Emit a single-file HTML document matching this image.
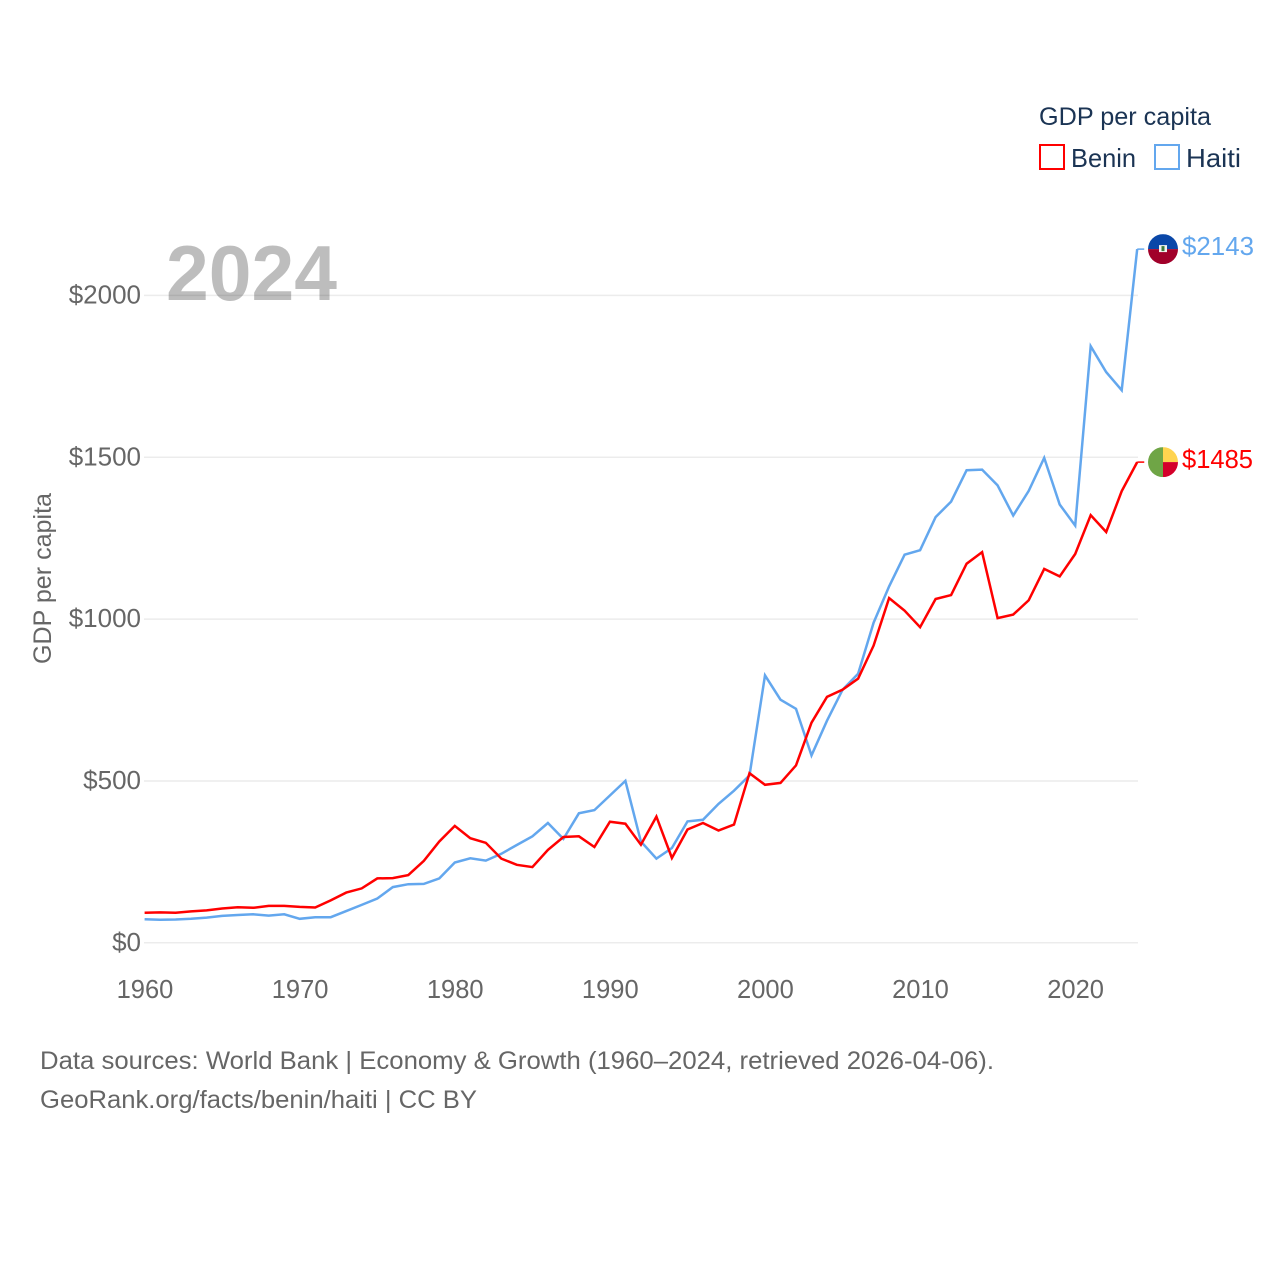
<!DOCTYPE html>
<html lang="en">
<head>
<meta charset="utf-8">
<title>GDP per capita: Benin and Haiti</title>
<style>
html,body{margin:0;padding:0;background:#fff;width:1280px;height:1280px;overflow:hidden}
svg{display:block;font-family:"Liberation Sans",sans-serif}
</style>
</head>
<body>
<svg id="chart" width="1280" height="1280" viewBox="0 0 1280 1280" xmlns="http://www.w3.org/2000/svg">
  <g id="grid"></g>
  <g id="y-labels"></g>
  <g id="x-labels"></g>
  <text x="166" y="300" font-size="78" font-weight="700" fill="#000" fill-opacity="0.26" textLength="171" lengthAdjust="spacingAndGlyphs">2024</text>
  <text transform="translate(51,664) rotate(-90)" font-size="25" fill="#666" textLength="171" lengthAdjust="spacingAndGlyphs">GDP per capita</text>
  <g id="series"></g>

  <g id="flag-haiti">
    <clipPath id="clip-haiti"><circle cx="0" cy="0" r="15"></circle></clipPath>
    <g clip-path="url(#clip-haiti)">
      <rect x="-15" y="-15" width="30" height="15" fill="#0a47a8"></rect>
      <rect x="-15" y="0" width="30" height="15" fill="#a1002a"></rect>
      <rect x="-4" y="-4" width="8" height="7" fill="#f4f4f0"></rect>
      <rect x="-1.5" y="-3" width="3" height="5" fill="#3c7a3c"></rect>
    </g>
  </g>
  <g id="flag-benin">
    <clipPath id="clip-benin"><circle cx="0" cy="0" r="15"></circle></clipPath>
    <g clip-path="url(#clip-benin)">
      <rect x="-15" y="-15" width="15" height="30" fill="#6fa546"></rect>
      <rect x="0" y="-15" width="15" height="15" fill="#ffd44f"></rect>
      <rect x="0" y="0" width="15" height="15" fill="#d4002a"></rect>
    </g>
  </g>
  <text id="value-haiti" x="1182" font-size="26" fill="#63a7ee" textLength="72" lengthAdjust="spacingAndGlyphs"></text>
  <text id="value-benin" x="1182" font-size="26" fill="#ff0000" textLength="71" lengthAdjust="spacingAndGlyphs"></text>

  <g>
    <text x="1039" y="125" font-size="25" fill="#1b3454" textLength="172" lengthAdjust="spacingAndGlyphs">GDP per capita</text>
    <g>
      <rect x="1040" y="145" width="24" height="24" fill="none" stroke="#ff0000" stroke-width="2"></rect>
      <text x="1071" y="167" font-size="26" fill="#1b3454" textLength="65" lengthAdjust="spacingAndGlyphs">Benin</text>
    </g>
    <g>
      <rect x="1155" y="145" width="24" height="24" fill="none" stroke="#63a7ee" stroke-width="2"></rect>
      <text x="1186" y="167" font-size="26" fill="#1b3454" textLength="55" lengthAdjust="spacingAndGlyphs">Haiti</text>
    </g>
  </g>

  <text x="40" y="1069" font-size="25" fill="#666" textLength="954" lengthAdjust="spacingAndGlyphs">Data sources: World Bank | Economy &amp; Growth (1960–2024, retrieved 2026-04-06).</text>
  <text x="40" y="1108" font-size="25" fill="#666" textLength="437" lengthAdjust="spacingAndGlyphs">GeoRank.org/facts/benin/haiti | CC BY</text>
</svg>
<script>
const startYear = 1960;
const xTickYears = [1960, 1970, 1980, 1990, 2000, 2010, 2020];
const yTickValues = [0, 500, 1000, 1500, 2000];
const beninValues = [93, 94, 93, 97, 100, 106, 110, 108, 114, 114, 111, 109, 131, 155, 168, 199, 200, 209, 253, 313, 361, 323, 309, 260, 241, 234, 287, 327, 329, 296, 374, 368, 303, 390, 262, 350, 370, 347, 365, 524, 488, 494, 548, 680, 760, 782, 816, 918, 1065, 1026, 975, 1062, 1074, 1171, 1207, 1003, 1014, 1058, 1155, 1132, 1201, 1321, 1269, 1395, 1485];
const haitiValues = [73, 71, 72, 74, 78, 83, 86, 88, 84, 88, 74, 79, 79, 98, 117, 137, 172, 181, 182, 199, 248, 261, 254, 275, 302, 329, 370, 321, 400, 410, 455, 500, 313, 260, 293, 375, 380, 429, 470, 517, 826, 751, 723, 579, 686, 782, 831, 989, 1101, 1199, 1213, 1315, 1363, 1460, 1462, 1413, 1320, 1396, 1498, 1354, 1289, 1843, 1763, 1707, 2143];

const NS = 'http://www.w3.org/2000/svg';
function xScale(year) { return 144.6 + (year - startYear) * 15.51; }
function yScale(value) { return 942.8 - value * 0.3237; }
function make(tag, attrs, parent) {
  const el = document.createElementNS(NS, tag);
  for (const k in attrs) el.setAttribute(k, attrs[k]);
  parent.appendChild(el);
  return el;
}

const grid = document.getElementById('grid');
const yLabels = document.getElementById('y-labels');
yTickValues.forEach(function (v) {
  const line = make('line', {x1: 144, x2: 1138, y1: yScale(v), y2: yScale(v), stroke: '#ececec', 'stroke-width': 1.5}, grid);
  
  
  const t = make('text', {x: 141, y: yScale(v) + 8, 'font-size': 26, fill: '#666', 'text-anchor': 'end'}, yLabels);
  t.textContent = '$' + v;
  
  
});

const xLabels = document.getElementById('x-labels');
xTickYears.forEach(function (y) {
  const t = make('text', {x: xScale(y) + 0.4, y: 998, 'font-size': 25.5, fill: '#666', 'text-anchor': 'middle'}, xLabels);
  t.textContent = String(y);
  
  
});

function drawSeries(values, color, name) {
  const group = document.getElementById('series');
  const pts = values.map(function (v, i) { return xScale(startYear + i).toFixed(1) + ',' + yScale(v).toFixed(1); }).join(' ');
  const line = make('polyline', {points: pts, fill: 'none', stroke: color, 'stroke-width': 2.5, 'stroke-linejoin': 'miter'}, group);
  
  
  const last = values[values.length - 1];
  const lastX = xScale(startYear + values.length - 1);
  const stub = make('line', {x1: lastX, x2: lastX + 7, y1: yScale(last), y2: yScale(last), stroke: color, 'stroke-width': 1.5}, group);
  
  
  document.getElementById('flag-' + name).setAttribute('transform', 'translate(1163,' + yScale(last).toFixed(1) + ')');
  const label = document.getElementById('value-' + name);
  label.setAttribute('y', (yScale(last) + 6).toFixed(1));
  label.textContent = '$' + last;
}
drawSeries(haitiValues, '#63a7ee', 'haiti');
drawSeries(beninValues, '#ff0000', 'benin');
</script>
</body>
</html>
